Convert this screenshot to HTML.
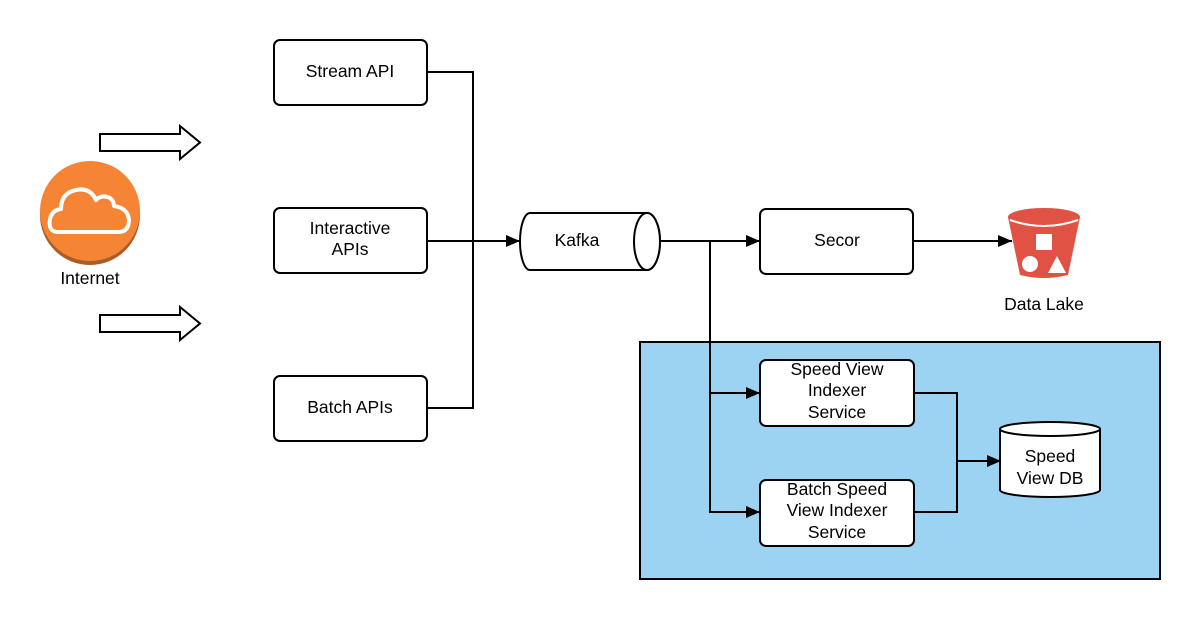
<!DOCTYPE html>
<html><head><meta charset="utf-8"><style>
html,body{margin:0;padding:0;background:#fff;}
svg{display:block;font-family:"Liberation Sans",sans-serif;}
</style></head><body>
<svg width="1200" height="620" viewBox="0 0 1200 620" xmlns="http://www.w3.org/2000/svg">
<defs><marker id="ah" markerWidth="14" markerHeight="12" refX="14" refY="6" orient="auto" markerUnits="userSpaceOnUse"><path d="M0,0 L14,6 L0,12 Z" fill="#000"/></marker></defs>
<rect x="640" y="342" width="520" height="237" fill="#9dd3f2" stroke="#000" stroke-width="2"/>
<!-- internet -->
<circle cx="90" cy="215" r="50" fill="#a85d2a"/>
<circle cx="90" cy="211" r="50" fill="#f58534"/>
<path d="M58,232 Q48,232 50,219 Q52,210 61,209 Q61,193 76,190 Q90,187 96,200 Q102,194 110,198 Q114,201 114,206 Q128,208 129,220 Q129,232 118,232 Z" fill="none" stroke="#fff" stroke-width="4" stroke-linejoin="round"/>
<text x="90" y="284" font-size="17.5" text-anchor="middle">Internet</text>
<path d="M100,134 H180 V126 L200,142.5 L180,159 V151 H100 Z" fill="#fff" stroke="#000" stroke-width="2"/>
<path d="M100,315 H180 V307 L200,323.5 L180,340 V332 H100 Z" fill="#fff" stroke="#000" stroke-width="2"/>
<!-- api boxes -->
<g fill="#fff" stroke="#000" stroke-width="2">
<rect x="274" y="40" width="153" height="65" rx="6"/>
<rect x="274" y="208" width="153" height="65" rx="6"/>
<rect x="274" y="376" width="153" height="65" rx="6"/>
<rect x="760" y="209" width="153" height="65" rx="6"/>
<rect x="760" y="360" width="154" height="66" rx="6"/>
<rect x="760" y="480" width="154" height="66" rx="6"/>
</g>
<g font-size="17.5" text-anchor="middle">
<text x="350" y="77">Stream API</text>
<text x="350" y="234">Interactive</text><text x="350" y="255">APIs</text>
<text x="350" y="413">Batch APIs</text>
<text x="837" y="246">Secor</text>
<text x="837" y="375">Speed View</text><text x="837" y="396">Indexer</text><text x="837" y="418">Service</text>
<text x="837" y="495">Batch Speed</text><text x="837" y="516">View Indexer</text><text x="837" y="538">Service</text>
</g>
<!-- connectors -->
<g fill="none" stroke="#000" stroke-width="2">
<path d="M427,72 H473 V408 H427"/>
<path d="M427,241 H520" marker-end="url(#ah)"/>
<path d="M660,241 H760" marker-end="url(#ah)"/>
<path d="M710,241 V512 H760" marker-end="url(#ah)"/>
<path d="M710,393 H760" marker-end="url(#ah)"/>
<path d="M913,241 H1012" marker-end="url(#ah)"/>
<path d="M914,393 H957 V512 H914"/>
<path d="M957,461 H1001" marker-end="url(#ah)"/>
</g>
<!-- kafka -->
<path d="M530,213 H647 A13,28.5 0 0 1 647,270 H530 A10,28.5 0 0 1 530,213 Z" fill="#fff" stroke="#000" stroke-width="2"/>
<ellipse cx="647" cy="241.5" rx="13" ry="28.5" fill="#fff" stroke="#000" stroke-width="2"/>
<text x="577" y="246" font-size="17.5" text-anchor="middle">Kafka</text>
<!-- DB -->
<path d="M1000,429 V490 A50,7 0 0 0 1100,490 V429" fill="#fff" stroke="#000" stroke-width="2"/>
<ellipse cx="1050" cy="429" rx="50" ry="7" fill="#fff" stroke="#000" stroke-width="2"/>
<text x="1050" y="462" font-size="17.5" text-anchor="middle">Speed</text>
<text x="1050" y="484" font-size="17.5" text-anchor="middle">View DB</text>
<!-- bucket -->
<path d="M1008,217 L1020,275 Q1044,281 1068,275 L1080,217 Z" fill="#e05243"/>
<ellipse cx="1044" cy="217" rx="36" ry="9" fill="#e05243"/>
<path d="M1010,220 Q1044,232 1078,220" fill="none" stroke="#fff" stroke-width="2"/>
<rect x="1036" y="234" width="16" height="16" fill="#fff"/>
<circle cx="1030" cy="264" r="8" fill="#fff"/>
<path d="M1048,273 L1057,256 L1066,273 Z" fill="#fff"/>
<text x="1044" y="310" font-size="17.5" text-anchor="middle">Data Lake</text>
</svg>
</body></html>
